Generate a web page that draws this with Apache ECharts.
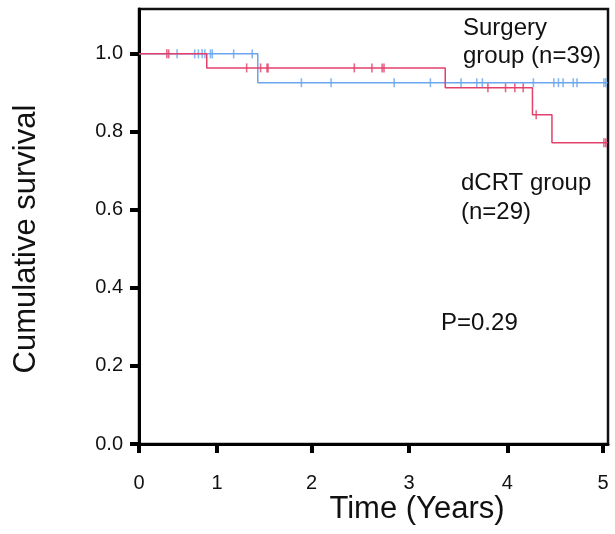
<!DOCTYPE html>
<html>
<head>
<meta charset="utf-8">
<script src="https://cdn.jsdelivr.net/npm/echarts@6/dist/echarts.min.js"></script>
<style>
    html, body { margin: 0; padding: 0; background: #fff; }
    #main { width: 615px; height: 534px; }
</style>
</head>
<body>
<div id="main"></div>
<script>
    // tick labels (the source figure's year ticks are not evenly spaced,
    // so tick positions are kept as read off the picture)
    const xTickPos = [0, 0.84, 1.86, 2.91, 3.97, 5]
    const xTickLabels = ['0', '1', '2', '3', '4', '5']
    const yTicks = [0, 0.2, 0.4, 0.6, 0.8, 1.0]

    // Kaplan-Meier steps: [time, survival after the step]
    const surgeryCurve = [[0, 1.0], [1.28, 0.926], [5.05, 0.926]]
    const dcrtCurve = [[0, 1.0], [0.73, 0.964], [3.30, 0.913], [4.24, 0.844], [4.45, 0.772], [5.05, 0.772]]

    // censored times
    const surgeryCensor = [0.41, 0.60, 0.64, 0.68, 0.71, 0.77, 0.79, 1.02, 1.22,
        1.75, 2.07, 2.75, 3.14, 3.47, 3.64, 3.70, 4.25, 4.47, 4.52, 4.57, 4.68, 4.72, 5.01, 5.03]
    const dcrtCensor = [0.30, 0.32, 1.16, 1.31, 1.38, 1.39, 2.32, 2.51, 2.62, 2.64,
        3.76, 3.95, 4.05, 4.14, 4.28, 5.01, 5.03]

    const RED = '#e3416b'
    const BLUE = '#6aa6ee'
    const FONT = 'Liberation Sans, Arial, sans-serif'

    // survival value at time t
    function survAt(curve, t) {
        let v = curve[0][1]
        for (let i = 0; i < curve.length; i++) {
            if (curve[i][0] <= t) v = curve[i][1]
        }
        return v
    }

    let chart = echarts.init(document.getElementById('main'))

    chart.setOption({
        animation: false,
        backgroundColor: '#fff',
        grid: {
            left: 139,
            right: 7,
            top: 9,
            bottom: 90,
            show: true,
            borderColor: '#111',
            borderWidth: 2.5
        },
        xAxis: {
            type: 'value',
            min: 0,
            max: 5.054,
            splitLine: { show: false },
            axisLine: { onZero: false, lineStyle: { color: '#000', width: 3 } },
            axisTick: {
                customValues: xTickPos,
                length: 9,
                lineStyle: { color: '#000', width: 4 }
            },
            axisLabel: {
                customValues: xTickPos,
                margin: 29,
                fontSize: 20,
                fontFamily: FONT,
                color: '#111',
                formatter: v => xTickLabels[xTickPos.indexOf(v)]
            }
        },
        yAxis: {
            type: 'value',
            min: 0,
            max: 1.115,
            splitLine: { show: false },
            axisLine: { lineStyle: { color: '#000', width: 3 } },
            axisTick: {
                customValues: yTicks,
                length: 9,
                lineStyle: { color: '#000', width: 4 }
            },
            axisLabel: {
                customValues: yTicks,
                margin: 16,
                fontSize: 20,
                fontFamily: FONT,
                color: '#111',
                formatter: v => v.toFixed(1)
            }
        },
        series: [
            {
                name: 'Surgery',
                type: 'line',
                step: 'end',
                symbol: 'none',
                lineStyle: { color: BLUE, width: 1.5 },
                data: surgeryCurve
            },
            {
                name: 'dCRT',
                type: 'line',
                step: 'end',
                symbol: 'none',
                lineStyle: { color: RED, width: 1.5 },
                data: dcrtCurve
            },
            {
                type: 'scatter',
                symbol: 'rect',
                symbolSize: [1.6, 9],
                itemStyle: { color: BLUE },
                data: surgeryCensor.map(t => [t, survAt(surgeryCurve, t)])
            },
            {
                type: 'scatter',
                symbol: 'rect',
                symbolSize: [1.6, 9],
                itemStyle: { color: RED },
                data: dcrtCensor.map(t => [t, survAt(dcrtCurve, t)])
            }
        ],
        graphic: [
            { type: 'text', left: 463, top: 16, style: { text: 'Surgery', font: '24px ' + FONT, fill: '#111' } },
            { type: 'text', left: 463, top: 44, style: { text: 'group (n=39)', font: '24px ' + FONT, fill: '#111' } },
            { type: 'text', left: 461, top: 171, style: { text: 'dCRT group', font: '24px ' + FONT, fill: '#111' } },
            { type: 'text', left: 461, top: 200, style: { text: '(n=29)', font: '24px ' + FONT, fill: '#111' } },
            { type: 'text', left: 441, top: 311, style: { text: 'P=0.29', font: '24px ' + FONT, fill: '#111' } },
            { type: 'text', x: 417, y: 509, style: { text: 'Time (Years)', font: '31px ' + FONT, fill: '#111', align: 'center', verticalAlign: 'middle' } },
            { type: 'text', x: 26, y: 239, rotation: Math.PI / 2, style: { text: 'Cumulative survival', font: '31px ' + FONT, fill: '#111', align: 'center', verticalAlign: 'middle' } }
        ]
    })
</script>
</body>
</html>
